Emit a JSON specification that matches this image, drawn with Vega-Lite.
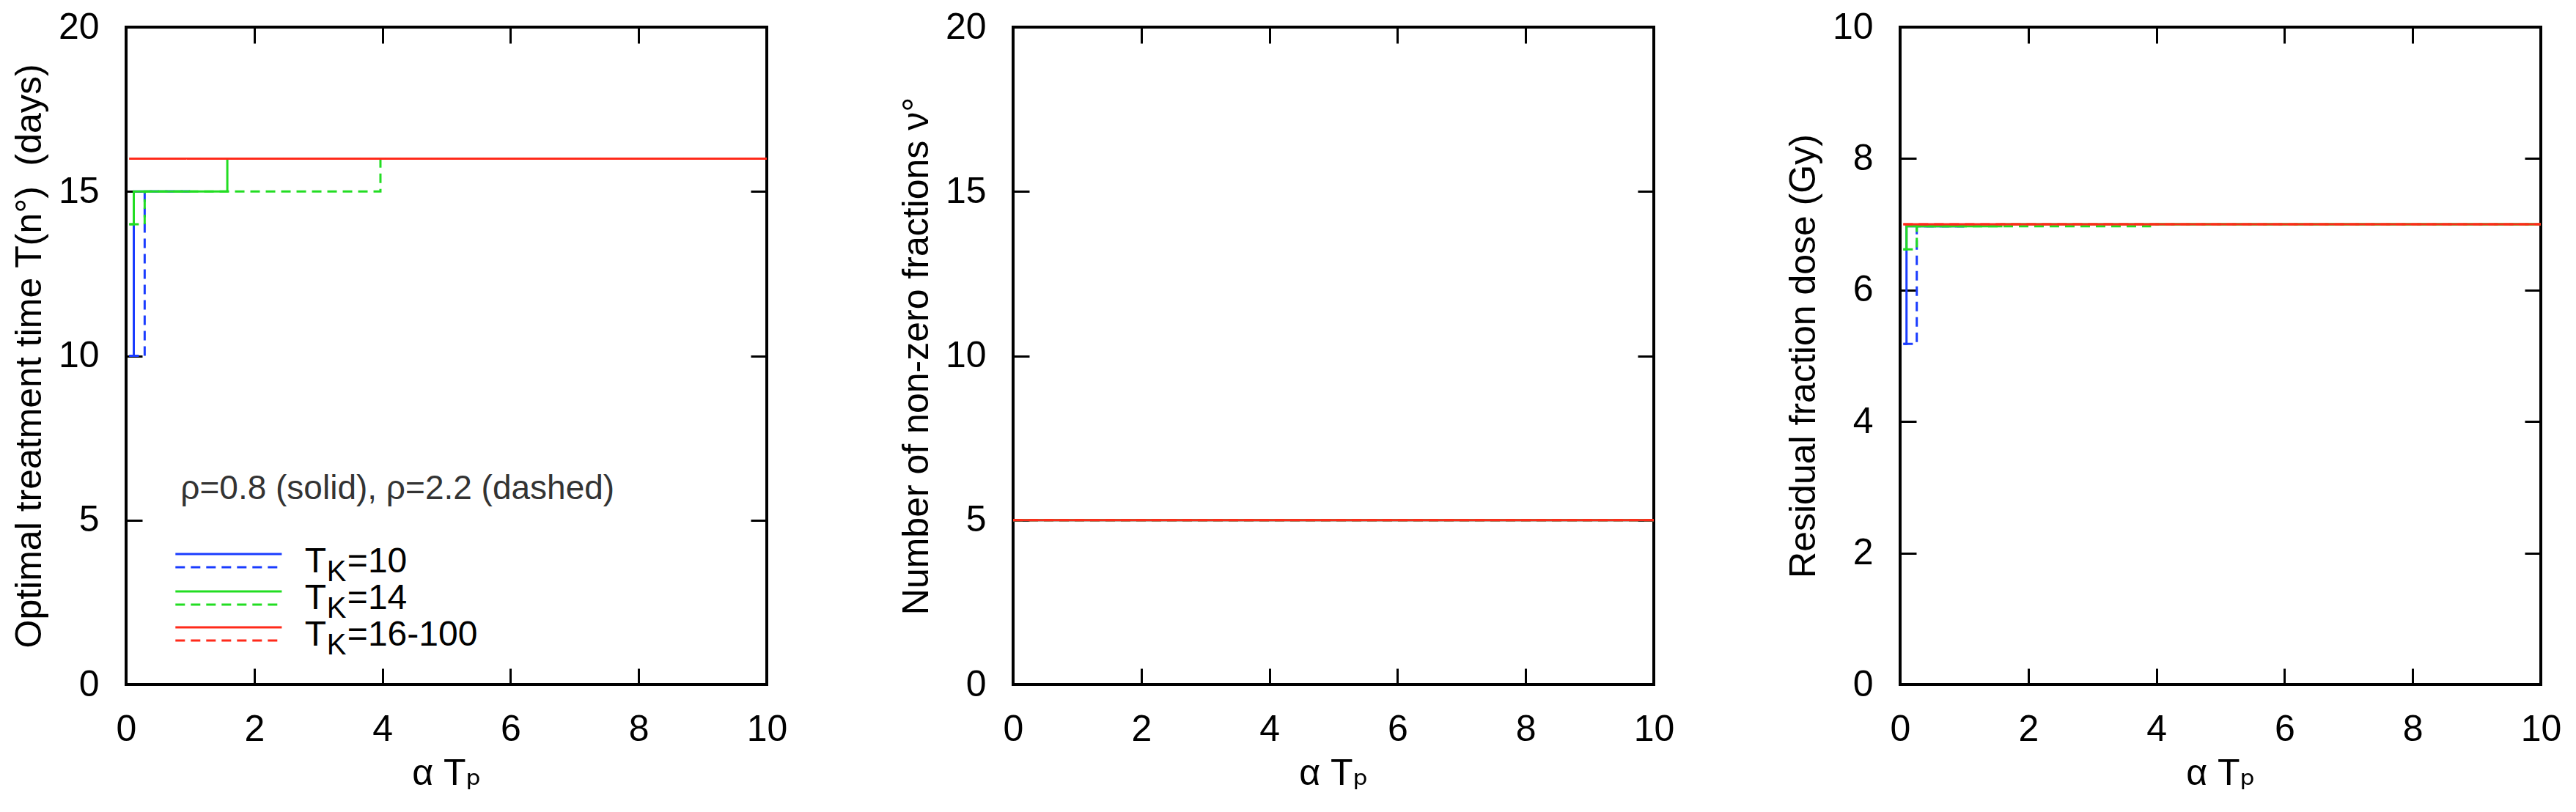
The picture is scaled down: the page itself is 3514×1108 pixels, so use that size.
{
  "$schema": "https://vega.github.io/schema/vega-lite/v6.json",
  "background": "white",
  "padding": {"left": 13, "top": 10, "right": 0, "bottom": 0},
  "autosize": {"type": "pad"},
  "spacing": 336,
  "bounds": "flush",
  "datasets": {
    "p1": [
      {"tk": "10", "rho": "0.8", "x": 0.05, "y": 10}, {"tk": "10", "rho": "0.8", "x": 0.12, "y": 15}, {"tk": "10", "rho": "0.8", "x": 1.0, "y": 15},
      {"tk": "10", "rho": "2.2", "x": 0.05, "y": 10}, {"tk": "10", "rho": "2.2", "x": 0.29, "y": 15}, {"tk": "10", "rho": "2.2", "x": 1.0, "y": 15},
      {"tk": "14", "rho": "0.8", "x": 0.05, "y": 14}, {"tk": "14", "rho": "0.8", "x": 0.12, "y": 15}, {"tk": "14", "rho": "0.8", "x": 1.58, "y": 16}, {"tk": "14", "rho": "0.8", "x": 10, "y": 16},
      {"tk": "14", "rho": "2.2", "x": 0.05, "y": 14}, {"tk": "14", "rho": "2.2", "x": 0.29, "y": 15}, {"tk": "14", "rho": "2.2", "x": 3.97, "y": 16}, {"tk": "14", "rho": "2.2", "x": 10, "y": 16},
      {"tk": "16-100", "rho": "0.8", "x": 0.05, "y": 16}, {"tk": "16-100", "rho": "0.8", "x": 10, "y": 16},
      {"tk": "16-100", "rho": "2.2", "x": 0.05, "y": 16}, {"tk": "16-100", "rho": "2.2", "x": 10, "y": 16}
    ],
    "p2": [
      {"tk": "10", "rho": "0.8", "x": 0, "y": 5}, {"tk": "10", "rho": "0.8", "x": 10, "y": 5},
      {"tk": "10", "rho": "2.2", "x": 0, "y": 5}, {"tk": "10", "rho": "2.2", "x": 10, "y": 5},
      {"tk": "14", "rho": "0.8", "x": 0, "y": 5}, {"tk": "14", "rho": "0.8", "x": 10, "y": 5},
      {"tk": "14", "rho": "2.2", "x": 0, "y": 5}, {"tk": "14", "rho": "2.2", "x": 10, "y": 5},
      {"tk": "16-100", "rho": "0.8", "x": 0, "y": 5}, {"tk": "16-100", "rho": "0.8", "x": 10, "y": 5},
      {"tk": "16-100", "rho": "2.2", "x": 0, "y": 5}, {"tk": "16-100", "rho": "2.2", "x": 10, "y": 5}
    ],
    "p3": [
      {"tk": "10", "rho": "0.8", "x": 0.05, "y": 5.18}, {"tk": "10", "rho": "0.8", "x": 0.1, "y": 6.97}, {"tk": "10", "rho": "0.8", "x": 1.0, "y": 6.97},
      {"tk": "10", "rho": "2.2", "x": 0.05, "y": 5.18}, {"tk": "10", "rho": "2.2", "x": 0.26, "y": 6.97}, {"tk": "10", "rho": "2.2", "x": 1.0, "y": 6.97},
      {"tk": "14", "rho": "0.8", "x": 0.05, "y": 6.62}, {"tk": "14", "rho": "0.8", "x": 0.1, "y": 6.97}, {"tk": "14", "rho": "0.8", "x": 1.58, "y": 7.0}, {"tk": "14", "rho": "0.8", "x": 10, "y": 7.0},
      {"tk": "14", "rho": "2.2", "x": 0.05, "y": 6.62}, {"tk": "14", "rho": "2.2", "x": 0.26, "y": 6.97}, {"tk": "14", "rho": "2.2", "x": 3.9, "y": 7.0}, {"tk": "14", "rho": "2.2", "x": 10, "y": 7.0},
      {"tk": "16-100", "rho": "0.8", "x": 0.05, "y": 7.0}, {"tk": "16-100", "rho": "0.8", "x": 10, "y": 7.0},
      {"tk": "16-100", "rho": "2.2", "x": 0.05, "y": 7.0}, {"tk": "16-100", "rho": "2.2", "x": 10, "y": 7.0}
    ]
  },
  "hconcat": [
    {
      "width": 874, "height": 897,
      "data": {"name": "p1"},
      "resolve": {"axis": {"x": "independent", "y": "independent"}},
      "layer": [
        {
          "encoding": {
            "x": {"field": "x", "type": "quantitative", "scale": {"domain": [0, 10]}, "axis": {"title": "α Tₚ", "values": [0, 2, 4, 6, 8, 10]}},
            "y": {"field": "y", "type": "quantitative", "scale": {"domain": [0, 20]}, "axis": {"title": "Optimal treatment time T(n°)\u00a0 (days)", "values": [0, 5, 10, 15, 20]}},
            "color": {"field": "tk", "type": "nominal", "scale": {"domain": ["10", "14", "16-100"], "range": ["#1a3cff", "#22dd22", "#ff2a1a"]}, "legend": null},
            "strokeDash": {"field": "rho", "type": "nominal", "scale": {"domain": ["0.8", "2.2"], "range": [[1, 0], [13, 8]]}, "legend": null}
          },
          "layer": [
            {"transform": [{"filter": {"field": "tk", "equal": "10"}}], "mark": {"type": "line", "interpolate": "step-after", "strokeWidth": 3}},
            {"transform": [{"filter": {"field": "tk", "equal": "14"}}], "mark": {"type": "line", "interpolate": "step-after", "strokeWidth": 3}},
            {"transform": [{"filter": {"field": "tk", "equal": "16-100"}}], "mark": {"type": "line", "interpolate": "step-after", "strokeWidth": 3}}
          ]
        },
        {
          "mark": {"type": "point", "opacity": 0},
          "encoding": {
            "x": {"field": "x", "type": "quantitative", "axis": {"orient": "top", "labels": false, "title": null, "values": [0, 2, 4, 6, 8, 10]}},
            "y": {"field": "y", "type": "quantitative", "axis": {"orient": "right", "labels": false, "title": null, "values": [0, 5, 10, 15, 20]}}
          }
        },
        {"data": {"values": [{}]}, "mark": {"type": "text", "text": "ρ=0.8 (solid), ρ=2.2 (dashed)", "align": "left", "baseline": "alphabetic", "fontSize": 46, "color": "#333333"},
         "encoding": {"x": {"datum": 0.85, "type": "quantitative", "axis": null}, "y": {"datum": 5.65, "type": "quantitative", "axis": null}}},
        {"data": {"values": [{"tk": "10", "rho": "0.8"}]}, "mark": {"type": "rule", "strokeWidth": 3},
         "encoding": {"x": {"datum": 0.77, "type": "quantitative", "axis": null}, "x2": {"datum": 2.43}, "y": {"datum": 3.97, "type": "quantitative", "axis": null},
                      "color": {"field": "tk", "type": "nominal", "legend": null}, "strokeDash": {"field": "rho", "type": "nominal", "legend": null}}},
        {"data": {"values": [{"tk": "10", "rho": "2.2"}]}, "mark": {"type": "rule", "strokeWidth": 3},
         "encoding": {"x": {"datum": 0.77, "type": "quantitative", "axis": null}, "x2": {"datum": 2.43}, "y": {"datum": 3.57, "type": "quantitative", "axis": null},
                      "color": {"field": "tk", "type": "nominal", "legend": null}, "strokeDash": {"field": "rho", "type": "nominal", "legend": null}}},
        {"data": {"values": [{"tk": "14", "rho": "0.8"}]}, "mark": {"type": "rule", "strokeWidth": 3},
         "encoding": {"x": {"datum": 0.77, "type": "quantitative", "axis": null}, "x2": {"datum": 2.43}, "y": {"datum": 2.83, "type": "quantitative", "axis": null},
                      "color": {"field": "tk", "type": "nominal", "legend": null}, "strokeDash": {"field": "rho", "type": "nominal", "legend": null}}},
        {"data": {"values": [{"tk": "14", "rho": "2.2"}]}, "mark": {"type": "rule", "strokeWidth": 3},
         "encoding": {"x": {"datum": 0.77, "type": "quantitative", "axis": null}, "x2": {"datum": 2.43}, "y": {"datum": 2.43, "type": "quantitative", "axis": null},
                      "color": {"field": "tk", "type": "nominal", "legend": null}, "strokeDash": {"field": "rho", "type": "nominal", "legend": null}}},
        {"data": {"values": [{"tk": "16-100", "rho": "0.8"}]}, "mark": {"type": "rule", "strokeWidth": 3},
         "encoding": {"x": {"datum": 0.77, "type": "quantitative", "axis": null}, "x2": {"datum": 2.43}, "y": {"datum": 1.74, "type": "quantitative", "axis": null},
                      "color": {"field": "tk", "type": "nominal", "legend": null}, "strokeDash": {"field": "rho", "type": "nominal", "legend": null}}},
        {"data": {"values": [{"tk": "16-100", "rho": "2.2"}]}, "mark": {"type": "rule", "strokeWidth": 3},
         "encoding": {"x": {"datum": 0.77, "type": "quantitative", "axis": null}, "x2": {"datum": 2.43}, "y": {"datum": 1.34, "type": "quantitative", "axis": null},
                      "color": {"field": "tk", "type": "nominal", "legend": null}, "strokeDash": {"field": "rho", "type": "nominal", "legend": null}}},
        {"data": {"values": [{}]}, "mark": {"type": "text", "text": "T", "align": "left", "baseline": "alphabetic", "fontSize": 48, "color": "black"},
         "encoding": {"x": {"datum": 2.79, "type": "quantitative", "axis": null}, "y": {"datum": 3.415, "type": "quantitative", "axis": null}}},
        {"data": {"values": [{}]}, "mark": {"type": "text", "text": "K", "align": "left", "baseline": "alphabetic", "fontSize": 40, "dx": 30, "dy": 12, "color": "black"},
         "encoding": {"x": {"datum": 2.79, "type": "quantitative", "axis": null}, "y": {"datum": 3.415, "type": "quantitative", "axis": null}}},
        {"data": {"values": [{}]}, "mark": {"type": "text", "text": "=10", "align": "left", "baseline": "alphabetic", "fontSize": 48, "dx": 58, "color": "black"},
         "encoding": {"x": {"datum": 2.79, "type": "quantitative", "axis": null}, "y": {"datum": 3.415, "type": "quantitative", "axis": null}}},
        {"data": {"values": [{}]}, "mark": {"type": "text", "text": "T", "align": "left", "baseline": "alphabetic", "fontSize": 48, "color": "black"},
         "encoding": {"x": {"datum": 2.79, "type": "quantitative", "axis": null}, "y": {"datum": 2.3, "type": "quantitative", "axis": null}}},
        {"data": {"values": [{}]}, "mark": {"type": "text", "text": "K", "align": "left", "baseline": "alphabetic", "fontSize": 40, "dx": 30, "dy": 12, "color": "black"},
         "encoding": {"x": {"datum": 2.79, "type": "quantitative", "axis": null}, "y": {"datum": 2.3, "type": "quantitative", "axis": null}}},
        {"data": {"values": [{}]}, "mark": {"type": "text", "text": "=14", "align": "left", "baseline": "alphabetic", "fontSize": 48, "dx": 58, "color": "black"},
         "encoding": {"x": {"datum": 2.79, "type": "quantitative", "axis": null}, "y": {"datum": 2.3, "type": "quantitative", "axis": null}}},
        {"data": {"values": [{}]}, "mark": {"type": "text", "text": "T", "align": "left", "baseline": "alphabetic", "fontSize": 48, "color": "black"},
         "encoding": {"x": {"datum": 2.79, "type": "quantitative", "axis": null}, "y": {"datum": 1.183, "type": "quantitative", "axis": null}}},
        {"data": {"values": [{}]}, "mark": {"type": "text", "text": "K", "align": "left", "baseline": "alphabetic", "fontSize": 40, "dx": 30, "dy": 12, "color": "black"},
         "encoding": {"x": {"datum": 2.79, "type": "quantitative", "axis": null}, "y": {"datum": 1.183, "type": "quantitative", "axis": null}}},
        {"data": {"values": [{}]}, "mark": {"type": "text", "text": "=16-100", "align": "left", "baseline": "alphabetic", "fontSize": 48, "dx": 58, "color": "black"},
         "encoding": {"x": {"datum": 2.79, "type": "quantitative", "axis": null}, "y": {"datum": 1.183, "type": "quantitative", "axis": null}}}
      ]
    },
    {
      "width": 874, "height": 897,
      "data": {"name": "p2"},
      "resolve": {"axis": {"x": "independent", "y": "independent"}},
      "layer": [
        {
          "encoding": {
            "x": {"field": "x", "type": "quantitative", "scale": {"domain": [0, 10]}, "axis": {"title": "α Tₚ", "values": [0, 2, 4, 6, 8, 10]}},
            "y": {"field": "y", "type": "quantitative", "scale": {"domain": [0, 20]}, "axis": {"title": "Number of non-zero fractions ν°", "values": [0, 5, 10, 15, 20]}},
            "color": {"field": "tk", "type": "nominal", "scale": {"domain": ["10", "14", "16-100"], "range": ["#1a3cff", "#22dd22", "#ff2a1a"]}, "legend": null},
            "strokeDash": {"field": "rho", "type": "nominal", "scale": {"domain": ["0.8", "2.2"], "range": [[1, 0], [13, 8]]}, "legend": null}
          },
          "layer": [
            {"transform": [{"filter": {"field": "tk", "equal": "10"}}], "mark": {"type": "line", "interpolate": "step-after", "strokeWidth": 3}},
            {"transform": [{"filter": {"field": "tk", "equal": "14"}}], "mark": {"type": "line", "interpolate": "step-after", "strokeWidth": 3}},
            {"transform": [{"filter": {"field": "tk", "equal": "16-100"}}], "mark": {"type": "line", "interpolate": "step-after", "strokeWidth": 3}}
          ]
        },
        {
          "mark": {"type": "point", "opacity": 0},
          "encoding": {
            "x": {"field": "x", "type": "quantitative", "axis": {"orient": "top", "labels": false, "title": null, "values": [0, 2, 4, 6, 8, 10]}},
            "y": {"field": "y", "type": "quantitative", "axis": {"orient": "right", "labels": false, "title": null, "values": [0, 5, 10, 15, 20]}}
          }
        }
      ]
    },
    {
      "width": 874, "height": 897,
      "data": {"name": "p3"},
      "resolve": {"axis": {"x": "independent", "y": "independent"}},
      "layer": [
        {
          "encoding": {
            "x": {"field": "x", "type": "quantitative", "scale": {"domain": [0, 10]}, "axis": {"title": "α Tₚ", "values": [0, 2, 4, 6, 8, 10]}},
            "y": {"field": "y", "type": "quantitative", "scale": {"domain": [0, 10]}, "axis": {"title": "Residual fraction dose (Gy)", "values": [0, 2, 4, 6, 8, 10]}},
            "color": {"field": "tk", "type": "nominal", "scale": {"domain": ["10", "14", "16-100"], "range": ["#1a3cff", "#22dd22", "#ff2a1a"]}, "legend": null},
            "strokeDash": {"field": "rho", "type": "nominal", "scale": {"domain": ["0.8", "2.2"], "range": [[1, 0], [13, 8]]}, "legend": null}
          },
          "layer": [
            {"transform": [{"filter": {"field": "tk", "equal": "10"}}], "mark": {"type": "line", "interpolate": "step-after", "strokeWidth": 3}},
            {"transform": [{"filter": {"field": "tk", "equal": "14"}}], "mark": {"type": "line", "interpolate": "step-after", "strokeWidth": 3}},
            {"transform": [{"filter": {"field": "tk", "equal": "16-100"}}], "mark": {"type": "line", "interpolate": "step-after", "strokeWidth": 3}}
          ]
        },
        {
          "mark": {"type": "point", "opacity": 0},
          "encoding": {
            "x": {"field": "x", "type": "quantitative", "axis": {"orient": "top", "labels": false, "title": null, "values": [0, 2, 4, 6, 8, 10]}},
            "y": {"field": "y", "type": "quantitative", "axis": {"orient": "right", "labels": false, "title": null, "values": [0, 2, 4, 6, 8, 10]}}
          }
        }
      ]
    }
  ],
  "config": {
    "font": "Liberation Sans, Arial, DejaVu Sans, sans-serif",
    "view": {"stroke": "black", "strokeWidth": 4},
    "axis": {
      "grid": false, "domain": false, "tickSize": -22, "tickWidth": 3, "tickColor": "black",
      "labelFontSize": 50, "titleFontSize": 50, "titleFontWeight": "normal",
      "labelColor": "black", "titleColor": "black", "labelFlush": false, "labelOverlap": false
    },
    "axisX": {"labelPadding": 58, "titlePadding": 10},
    "axisY": {"labelPadding": 59, "titlePadding": 14}
  }
}
